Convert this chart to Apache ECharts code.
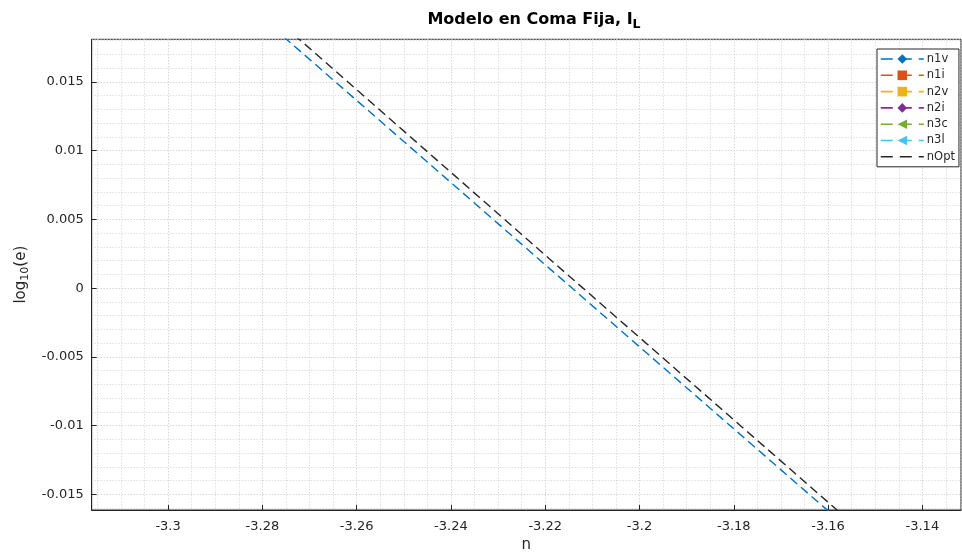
<!DOCTYPE html>
<html>
<head>
<meta charset="utf-8">
<script src="https://cdn.jsdelivr.net/npm/echarts@6/dist/echarts.min.js"></script>
<style>
html,body{margin:0;padding:0;background:#fff;}
#c{width:962px;height:558px;}
</style>
</head>
<body>
<div id="c"></div>
<script>
// ---- data ----
const seriesNames = ['n1v', 'n1i', 'n2v', 'n2i', 'n3c', 'n3l', 'nOpt'];
const n1vX = [-3.2800, -3.2749, -3.2200, -3.1603, -3.1550];
const n1vY = [0.0196, 0.0181, 0.0017, -0.0161, -0.0177];
const n1iX = [];
const n1iY = [];
const n2vX = [];
const n2vY = [];
const n2iX = [];
const n2iY = [];
const n3cX = [];
const n3cY = [];
const n3lX = [];
const n3lY = [];
const nOptX = [-3.2800, -3.2722, -3.2200, -3.1582, -3.1500];
const nOptY = [0.0204, 0.0181, 0.0024, -0.0161, -0.0186];
const xMin = -3.3162, xMax = -3.1318;
const yMin = -0.01613, yMax = 0.01809;

const FONT = 'DejaVu Sans';
const AX = '#262626';
function pairs(xs, ys) { return xs.map((x, i) => [x, ys[i]]); }

const styles = {
  n1v:  {color: '#0072BD', symbol: 'diamond', rot: 0},
  n1i:  {color: '#D95319', symbol: 'rect', rot: 0},
  n2v:  {color: '#EDB120', symbol: 'rect', rot: 0},
  n2i:  {color: '#7E2F8E', symbol: 'diamond', rot: 0},
  n3c:  {color: '#77AC30', symbol: 'triangle', rot: 90},
  n3l:  {color: '#4DBEEE', symbol: 'triangle', rot: 90},
  nOpt: {color: '#262626', symbol: 'none', rot: 0}
};
const dataMap = {
  n1v: pairs(n1vX, n1vY), n1i: pairs(n1iX, n1iY), n2v: pairs(n2vX, n2vY),
  n2i: pairs(n2iX, n2iY), n3c: pairs(n3cX, n3cY), n3l: pairs(n3lX, n3lY),
  nOpt: pairs(nOptX, nOptY)
};

const series = seriesNames.map(name => {
  const s = styles[name];
  return {
    name: name,
    type: 'line',
    data: dataMap[name],
    showSymbol: false,
    symbol: s.symbol,
    symbolSize: 9,
    symbolRotate: s.rot,
    clip: true,
    animation: false,
    itemStyle: {color: s.color},
    lineStyle: {color: s.color, width: 1.4, type: [9, 5]}
  };
});

const legendData = seriesNames.map(name => {
  const s = styles[name];
  const item = {name: name, lineStyle: {type: [12, 7], width: 1.6}};
  if (s.symbol === 'none') item.itemStyle = {opacity: 0};
  return item;
});

const chart = echarts.init(document.getElementById('c'), null, {renderer: 'canvas'});
chart.setOption({
  backgroundColor: '#ffffff',
  animation: false,
  title: {
    text: 'Modelo en Coma Fija, I{sub|L}',
    left: 529, top: 3, textAlign: 'center',
    textStyle: {
      fontFamily: FONT, fontSize: 16, fontWeight: 'bold', color: '#000',
      rich: {sub: {fontFamily: FONT, fontSize: 12.5, fontWeight: 'bold', color: '#000', verticalAlign: 'bottom', padding: [10, 0, 0, 0]}}
    }
  },
  grid: {left: 91.7, right: 1, top: 39.3, bottom: 43, show: true, borderColor: AX, borderWidth: 1, backgroundColor: 'transparent'},
  legend: {
    data: legendData,
    orient: 'vertical',
    left: 877, top: 49,
    backgroundColor: '#fff',
    borderColor: AX, borderWidth: 1, borderRadius: 0,
    padding: [4, 4, 4, 3],
    itemWidth: 43, itemHeight: 12, itemGap: 4.3,
    textStyle: {fontFamily: FONT, fontSize: 11.5, color: AX, padding: [0, 0, 0, -2]}
  },
  xAxis: {
    type: 'value', min: xMin, max: xMax, splitNumber: 9,
    name: 'n', nameLocation: 'middle', nameGap: 28,
    nameTextStyle: {fontFamily: FONT, fontSize: 15, color: AX},
    axisLine: {show: true, onZero: false, lineStyle: {color: AX, width: 1}},
    axisTick: {show: true, inside: true, length: 5, lineStyle: {color: AX}},
    axisLabel: {fontFamily: FONT, fontSize: 13, color: AX, margin: 10, showMinLabel: false, showMaxLabel: false},
    splitLine: {show: true, lineStyle: {color: '#c4c4c4', type: [1, 2], width: 1}},
    minorTick: {show: false, splitNumber: 4},
    minorSplitLine: {show: true, lineStyle: {color: '#d2d2d2', type: [1, 2], width: 1}}
  },
  yAxis: {
    type: 'value', min: yMin, max: yMax, splitNumber: 7,
    name: 'log{sub|10}(e)', nameLocation: 'middle', nameGap: 60, nameRotate: 90,
    nameTextStyle: {fontFamily: FONT, fontSize: 15, color: AX,
      rich: {sub: {fontFamily: FONT, fontSize: 11, color: AX, verticalAlign: 'bottom', padding: [9, 0, 0, 0]}}},
    axisLine: {show: true, onZero: false, lineStyle: {color: AX, width: 1}},
    axisTick: {show: true, inside: true, length: 5, lineStyle: {color: AX}},
    axisLabel: {fontFamily: FONT, fontSize: 13, color: AX, margin: 8, showMinLabel: false, showMaxLabel: false},
    splitLine: {show: true, lineStyle: {color: '#c4c4c4', type: [1, 2], width: 1}},
    minorTick: {show: false, splitNumber: 5},
    minorSplitLine: {show: true, lineStyle: {color: '#d2d2d2', type: [1, 2], width: 1}}
  },
  series: series
});
</script>
</body>
</html>
